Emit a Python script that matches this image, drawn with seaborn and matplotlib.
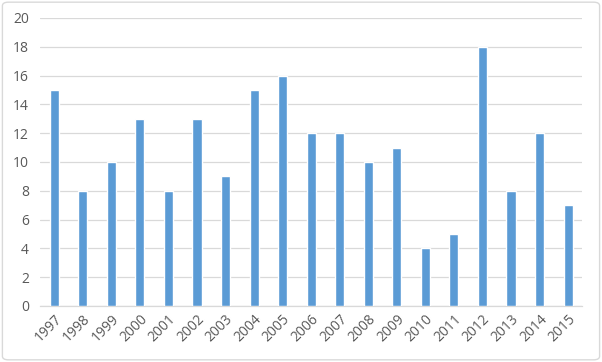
import matplotlib
matplotlib.use("Agg")
import matplotlib.pyplot as plt
import seaborn as sns
import pandas as pd
from matplotlib.patches import FancyBboxPatch

years = ["1997", "1998", "1999", "2000", "2001", "2002", "2003", "2004", "2005", "2006",
         "2007", "2008", "2009", "2010", "2011", "2012", "2013", "2014", "2015"]
values = [15, 8, 10, 13, 8, 13, 9, 15, 16, 12, 12, 10, 11, 4, 5, 18, 8, 12, 7]
y_ticks = [0, 2, 4, 6, 8, 10, 12, 14, 16, 18, 20]

sns.set_theme(style="white")
plt.rcParams['font.family'] = ['Open Sans', 'DejaVu Sans']

df = pd.DataFrame({"year": years, "value": values})

fig = plt.figure(figsize=(6.02, 3.62), dpi=100)
ax = fig.add_axes([0.0664, 0.1547, 0.9010, 0.7956])

sns.barplot(data=df, x="year", y="value", color="#5B9BD5", width=0.32,
            saturation=1, ax=ax, zorder=3)

ax.set_ylim(0, 20)
ax.set_yticks(y_ticks)
ax.set_xlim(-0.5, len(years) - 0.5)
ax.grid(axis="y", color="#D9D9D9", linewidth=0.9, zorder=0)
for s in ["top", "right", "left"]:
    ax.spines[s].set_visible(False)
ax.spines["bottom"].set_color("#D9D9D9")
ax.spines["bottom"].set_linewidth(0.9)
ax.set_xlabel("")
ax.set_ylabel("")
ax.tick_params(axis="both", length=0, labelsize=10, labelcolor="#595959")
ax.tick_params(axis="y", pad=8)
ax.tick_params(axis="x", pad=4)
for lab in ax.get_xticklabels():
    lab.set_rotation(45)
    lab.set_ha("right")
    lab.set_rotation_mode("anchor")

border = FancyBboxPatch((0.004, 0.006), 0.992, 0.988, boxstyle="round,pad=0,rounding_size=0.01",
                        transform=fig.transFigure, fill=False, edgecolor="#D9D9D9",
                        linewidth=1.0)
fig.patches.append(border)

fig.savefig("out.png", dpi=100)
